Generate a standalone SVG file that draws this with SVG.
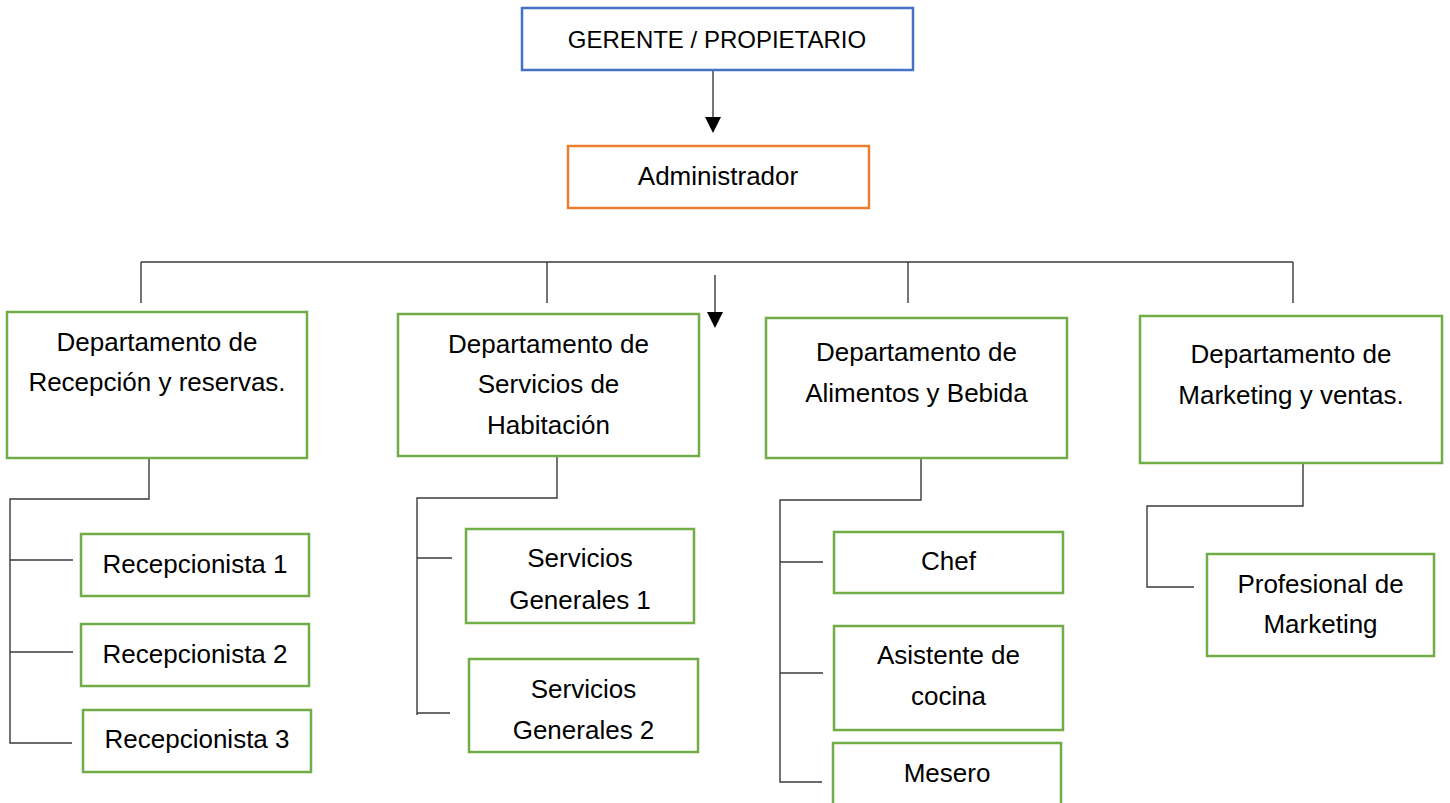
<svg xmlns="http://www.w3.org/2000/svg" width="1450" height="803" viewBox="0 0 1450 803">
<style>
.box{fill:#fff;stroke-width:2.5}
.g{stroke:#70AD47}
.b{stroke:#4472C4}
.o{stroke:#ED7D31}
text{font-family:"Liberation Sans",Arial,sans-serif;font-size:25px;fill:#000;text-anchor:middle}
.conn line,.conn polyline{stroke:#3a3a3a;stroke-width:1.4;fill:none}
</style>
<defs>
<marker id="arr" markerWidth="16" markerHeight="16" refX="8" refY="15" orient="auto" markerUnits="userSpaceOnUse" viewBox="0 0 16 16">
<path d="M0,0 L16,0 L8,15 Z" fill="#000"/>
</marker>
</defs>
<rect width="1450" height="803" fill="#fff"/>
<g class="conn">
<line x1="713" y1="70" x2="713" y2="117"/>
<path d="M705,117 L721,117 L713,133 Z" fill="#000"/>
<line x1="141" y1="262" x2="1293" y2="262"/>
<line x1="141" y1="262" x2="141" y2="303"/>
<line x1="547" y1="262" x2="547" y2="303"/>
<line x1="908" y1="262" x2="908" y2="303"/>
<line x1="1293" y1="262" x2="1293" y2="303"/>
<line x1="715" y1="275" x2="715" y2="313"/>
<path d="M707,312 L723,312 L715,328 Z" fill="#000"/>
<polyline points="149,458 149,499 10,499 10,743 72,743"/>
<line x1="10" y1="560" x2="73" y2="560"/>
<line x1="10" y1="652" x2="73" y2="652"/>
<polyline points="557,456 557,498 417,498 417,715"/>
<line x1="417" y1="558" x2="452" y2="558"/>
<line x1="417" y1="713" x2="450" y2="713"/>
<polyline points="921,458 921,500 780,500 780,782 822,782"/>
<line x1="780" y1="562" x2="823" y2="562"/>
<line x1="780" y1="673" x2="823" y2="673"/>
<polyline points="1303,463 1303,506 1147,506 1147,587 1194,587"/>
</g>
<g id="gerente">
<rect class="box b" x="522" y="8" width="391" height="62"/>
<text x="717" y="48" style="font-size:24px">GERENTE / PROPIETARIO</text>
</g>
<g id="administrador">
<rect class="box o" x="568" y="146" width="301" height="62"/>
<text x="718" y="185" style="font-size:26px">Administrador</text>
</g>
<g id="dep-recepcion">
<rect class="box g" x="7" y="312" width="300" height="146"/>
<text x="157" y="351" style="font-size:26px">Departamento de</text>
<text x="157" y="391" style="font-size:26px">Recepción y reservas.</text>
</g>
<g id="recep1">
<rect class="box g" x="81" y="534" width="228" height="62"/>
<text x="195" y="573" style="font-size:26px">Recepcionista 1</text>
</g>
<g id="recep2">
<rect class="box g" x="81" y="624" width="228" height="62"/>
<text x="195" y="663" style="font-size:26px">Recepcionista 2</text>
</g>
<g id="recep3">
<rect class="box g" x="83" y="710" width="228" height="62"/>
<text x="197" y="748" style="font-size:26px">Recepcionista 3</text>
</g>
<g id="dep-servicios">
<rect class="box g" x="398" y="314" width="301" height="142"/>
<text x="548.5" y="353" style="font-size:26px">Departamento de</text>
<text x="548.5" y="393" style="font-size:26px">Servicios de</text>
<text x="548.5" y="434" style="font-size:26px">Habitación</text>
</g>
<g id="sg1">
<rect class="box g" x="466" y="529" width="228" height="94"/>
<text x="580" y="567" style="font-size:26px">Servicios</text>
<text x="580" y="609" style="font-size:26px">Generales 1</text>
</g>
<g id="sg2">
<rect class="box g" x="469" y="659" width="229" height="93"/>
<text x="583.5" y="698" style="font-size:26px">Servicios</text>
<text x="583.5" y="739" style="font-size:26px">Generales 2</text>
</g>
<g id="dep-alimentos">
<rect class="box g" x="766" y="318" width="301" height="140"/>
<text x="916.5" y="361" style="font-size:26px">Departamento de</text>
<text x="916.5" y="402" style="font-size:26px">Alimentos y Bebida</text>
</g>
<g id="chef">
<rect class="box g" x="834" y="532" width="229" height="61"/>
<text x="948.5" y="570" style="font-size:26px">Chef</text>
</g>
<g id="asistente">
<rect class="box g" x="834" y="626" width="229" height="104"/>
<text x="948.5" y="664" style="font-size:26px">Asistente de</text>
<text x="948.5" y="705" style="font-size:26px">cocina</text>
</g>
<g id="mesero">
<rect class="box g" x="833" y="743" width="228" height="70"/>
<text x="947" y="782" style="font-size:26px">Mesero</text>
</g>
<g id="dep-marketing">
<rect class="box g" x="1140" y="316" width="302" height="147"/>
<text x="1291" y="363" style="font-size:26px">Departamento de</text>
<text x="1291" y="404" style="font-size:26px">Marketing y ventas.</text>
</g>
<g id="profesional">
<rect class="box g" x="1207" y="554" width="227" height="102"/>
<text x="1320.5" y="593" style="font-size:26px">Profesional de</text>
<text x="1320.5" y="633" style="font-size:26px">Marketing</text>
</g>
</svg>
